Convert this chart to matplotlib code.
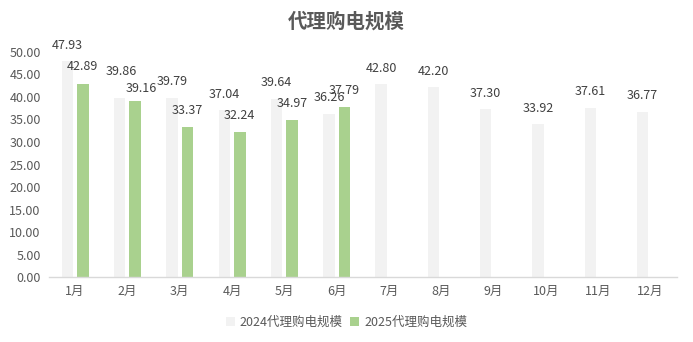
import matplotlib
matplotlib.use("Agg")
import matplotlib.pyplot as plt
import numpy as np
from matplotlib.patches import Patch

plt.rcParams['font.family'] = ['Noto Sans CJK SC', 'DejaVu Sans']

months = ["1月", "2月", "3月", "4月", "5月", "6月", "7月", "8月", "9月", "10月", "11月", "12月"]
scale_2024 = [47.93, 39.86, 39.79, 37.04, 39.64, 36.26, 42.80, 42.20, 37.30, 33.92, 37.61, 36.77]
scale_2025 = [42.89, 39.16, 33.37, 32.24, 34.97, 37.79]
yticks = [0, 5, 10, 15, 20, 25, 30, 35, 40, 45, 50]

# label offsets in pixels (dx, dy) from the top-centre of each bar
label_off_2024 = [(0, 16), (2, 26)] + [(0, 16)] * 10
label_off_2025 = [(-1, 17), (6, 12)] + [(0, 16)] * 4

c24 = "#F2F2F2"
c25 = "#A9D18E"
txt = "#595959"

fig = plt.figure(figsize=(6.93, 3.42), dpi=100)
ax = fig.add_axes([0.0707, 0.190, 0.9055, 0.658])

x = np.arange(len(months))
w = 0.22
off = 0.148
b1 = ax.bar(x[:len(scale_2024)] - off, scale_2024, width=w, color=c24, label="2024代理购电规模")
b2 = ax.bar(x[:len(scale_2025)] + off, scale_2025, width=w, color=c25, label="2025代理购电规模")

for bars, vals, offs in ((b1, scale_2024, label_off_2024), (b2, scale_2025, label_off_2025)):
    for rect, v, (dx, dy) in zip(bars, vals, offs):
        ax.annotate(f"{v:.2f}", (rect.get_x() + rect.get_width() / 2, v), xytext=(dx, dy),
                    textcoords="offset pixels", ha="center", va="center", fontsize=9,
                    color="#404040", annotation_clip=False)

ax.set_xlim(-0.5, len(months) - 0.5)
ax.set_ylim(0, 50)
ax.set_yticks(yticks)
ax.set_yticklabels([f"{t:.2f}" for t in yticks], fontsize=9, color=txt)
ax.set_xticks(x)
ax.set_xticklabels(months, fontsize=9, color=txt)
ax.tick_params(axis="both", length=0)
ax.tick_params(axis="x", pad=6)
ax.tick_params(axis="y", pad=6)
for s in ["top", "right", "left"]:
    ax.spines[s].set_visible(False)
ax.spines["bottom"].set_color("#D9D9D9")
ax.spines["bottom"].set_linewidth(1.0)

fig.text(0.5, 0.935, "代理购电规模", ha="center", va="center", fontsize=14,
         fontweight="bold", color="#595959")

handles = [Patch(facecolor=c24, label="2024代理购电规模"),
           Patch(facecolor=c25, label="2025代理购电规模")]
fig.legend(handles=handles, loc="center", bbox_to_anchor=(0.5, 0.058), ncol=2, frameon=False,
           fontsize=9, labelcolor=txt, handlelength=0.7, handleheight=0.7,
           handletextpad=0.4, columnspacing=0.6)

fig.savefig("out.png", dpi=100)
